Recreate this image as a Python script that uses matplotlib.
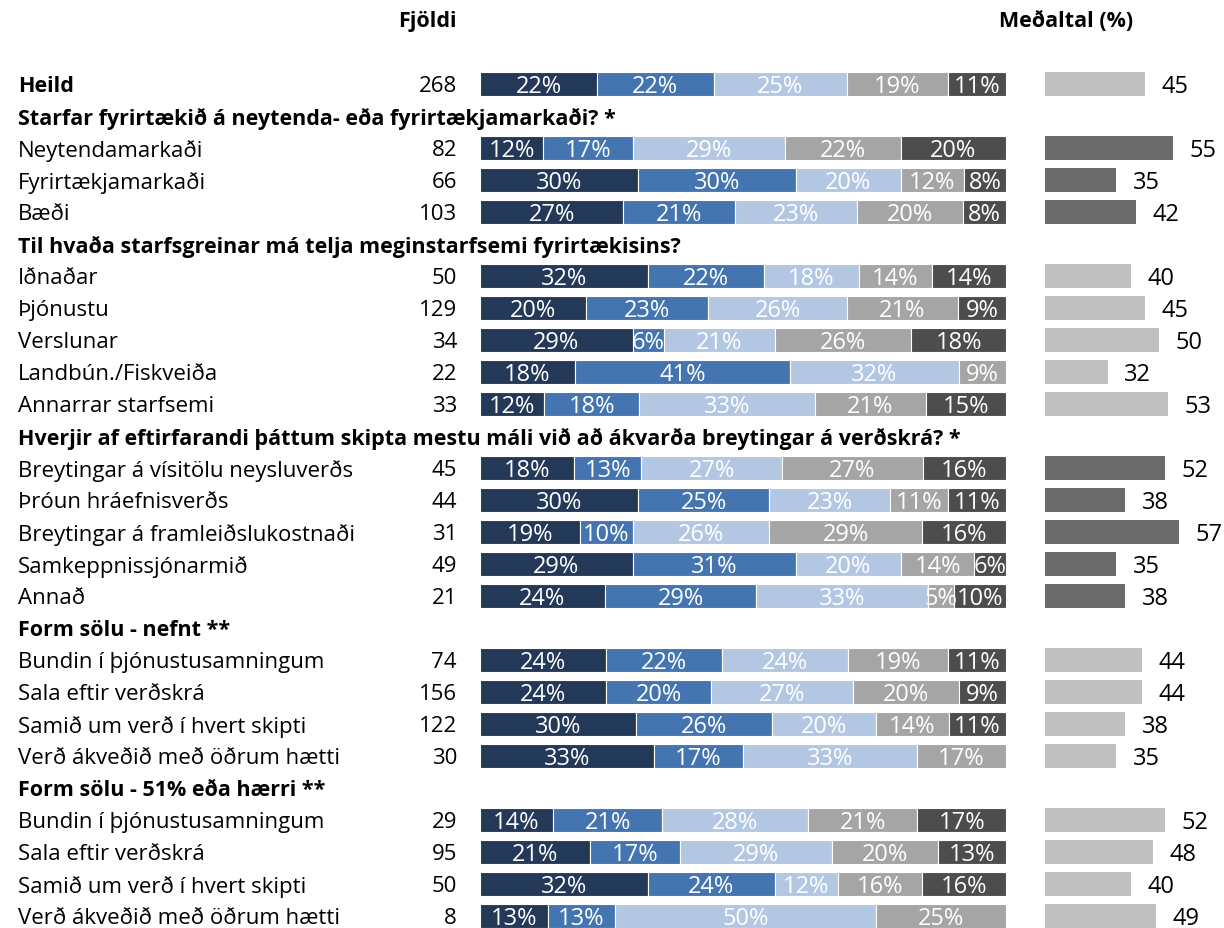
import matplotlib
matplotlib.use("Agg")
import matplotlib.pyplot as plt
import matplotlib.transforms as mtrans
import numpy as np

plt.rcParams['font.family'] = ['Open Sans', 'DejaVu Sans']

row_labels = [
    "Heild",
    "Starfar fyrirtækið á neytenda- eða fyrirtækjamarkaði? *",
    "Neytendamarkaði", "Fyrirtækjamarkaði", "Bæði",
    "Til hvaða starfsgreinar má telja meginstarfsemi fyrirtækisins?",
    "Iðnaðar", "Þjónustu", "Verslunar", "Landbún./Fiskveiða", "Annarrar starfsemi",
    "Hverjir af eftirfarandi þáttum skipta mestu máli við að ákvarða breytingar á verðskrá? *",
    "Breytingar á vísitölu neysluverðs", "Þróun hráefnisverðs",
    "Breytingar á framleiðslukostnaði", "Samkeppnissjónarmið", "Annað",
    "Form sölu - nefnt **",
    "Bundin í þjónustusamningum", "Sala eftir verðskrá",
    "Samið um verð í hvert skipti", "Verð ákveðið með öðrum hætti",
    "Form sölu - 51% eða hærri **",
    "Bundin í þjónustusamningum", "Sala eftir verðskrá",
    "Samið um verð í hvert skipti", "Verð ákveðið með öðrum hætti",
]
is_header = [False, True, False, False, False, True, False, False, False, False, False,
             True, False, False, False, False, False, True, False, False, False, False,
             True, False, False, False, False]
bold_rows = [True] + [False] * 26
counts = [268, None, 82, 66, 103, None, 50, 129, 34, 22, 33, None, 45, 44, 31, 49, 21,
          None, 74, 156, 122, 30, None, 29, 95, 50, 8]

# segment shares for data rows (in order of appearance)
seg1 = [22, 12, 30, 27, 32, 20, 29, 18, 12, 18, 30, 19, 29, 24, 24, 24, 30, 33, 14, 21, 32, 13]
seg2 = [22, 17, 30, 21, 22, 23, 6, 41, 18, 13, 25, 10, 31, 29, 22, 20, 26, 17, 21, 17, 24, 13]
seg3 = [25, 29, 20, 23, 18, 26, 21, 32, 33, 27, 23, 26, 20, 33, 24, 27, 20, 33, 28, 29, 12, 50]
seg4 = [19, 22, 12, 20, 14, 21, 26, 9, 21, 27, 11, 29, 14, 5, 19, 20, 14, 17, 21, 20, 16, 25]
seg5 = [11, 20, 8, 8, 14, 9, 18, 0, 15, 16, 11, 16, 6, 10, 11, 9, 11, 0, 17, 13, 16, 0]
means = [45, 55, 35, 42, 40, 45, 50, 32, 53, 52, 38, 57, 35, 38, 44, 44, 38, 35, 52, 48, 40, 49]
mean_dark = [False, True, True, True, False, False, False, False, False, True, True, True,
             True, True, False, False, False, False, False, False, False, False]

seg_colors = ["#243858", "#4575B0", "#B3C7E3", "#A5A5A5", "#4D4D4D"]
mean_light, mean_darkc = "#C0C0C0", "#6B6B6B"

W, H = 1224, 929
fig = plt.figure(figsize=(W / 100, H / 100), dpi=100)

row0_px, step_px = 85, 32
ytop = -row0_px / step_px
ybot = (H - row0_px) / step_px

# stacked bar axis
bx0, bx1 = 480, 1006
ax = fig.add_axes([bx0 / W, 0, (bx1 - bx0) / W, 1])
ax.set_xlim(0, 100)
ax.set_ylim(ybot, ytop)
ax.axis('off')

# mean axis
mx0 = 1045
scale = 2.85
ax2 = fig.add_axes([mx0 / W, 0, (W - mx0) / W, 1])
ax2.set_xlim(10, 10 + (W - mx0) / scale)
ax2.set_ylim(ybot, ytop)
ax2.axis('off')

fs = 16
fs_bold = 15.5
fs_lab = 17
dy = 0.06  # small downward nudge for text baseline
tr = mtrans.blended_transform_factory(fig.transFigure, ax.transData)

data_y = [i for i, h in enumerate(is_header) if not h]
segs = np.array([seg1, seg2, seg3, seg4, seg5], dtype=float).T

for i, lab in enumerate(row_labels):
    bold = is_header[i] or bold_rows[i]
    fig.text(18 / W, i + dy, lab, transform=tr, ha='left', va='center',
             fontsize=fs_bold if bold else fs,
             fontweight='bold' if bold else 'normal', color='black')
    if counts[i] is not None:
        fig.text(457 / W, i + dy, str(counts[i]), transform=tr, ha='right', va='center',
                 fontsize=fs, color='black')

for k, y in enumerate(data_y):
    vals = segs[k]
    tot = vals.sum()
    left = 0.0
    for j, v in enumerate(vals):
        if v <= 0:
            continue
        w = v / tot * 100
        ax.barh(y, w, left=left, height=0.78, color=seg_colors[j],
                edgecolor='white', linewidth=0.8)
        ax.text(left + w / 2, y + dy, f"{int(v)}%", ha='center', va='center',
                color='white', fontsize=fs_lab)
        left += w
    c = mean_darkc if mean_dark[k] else mean_light
    ax2.barh(y, means[k] - 10, left=10, height=0.75, color=c)
    ax2.annotate(str(means[k]), (means[k], y + dy), xytext=(12, 0), textcoords='offset points',
                 ha='left', va='center', fontsize=fs_lab, color='black')

fig.text(457 / W, -2, "Fjöldi", transform=tr, ha='right',
         va='center', fontsize=fs_bold, fontweight='bold')
fig.text(1066 / W, -2, "Meðaltal (%)", transform=tr, ha='center', va='center',
         fontsize=fs_bold, fontweight='bold')

fig.savefig("out.png", dpi=100, facecolor='white')
